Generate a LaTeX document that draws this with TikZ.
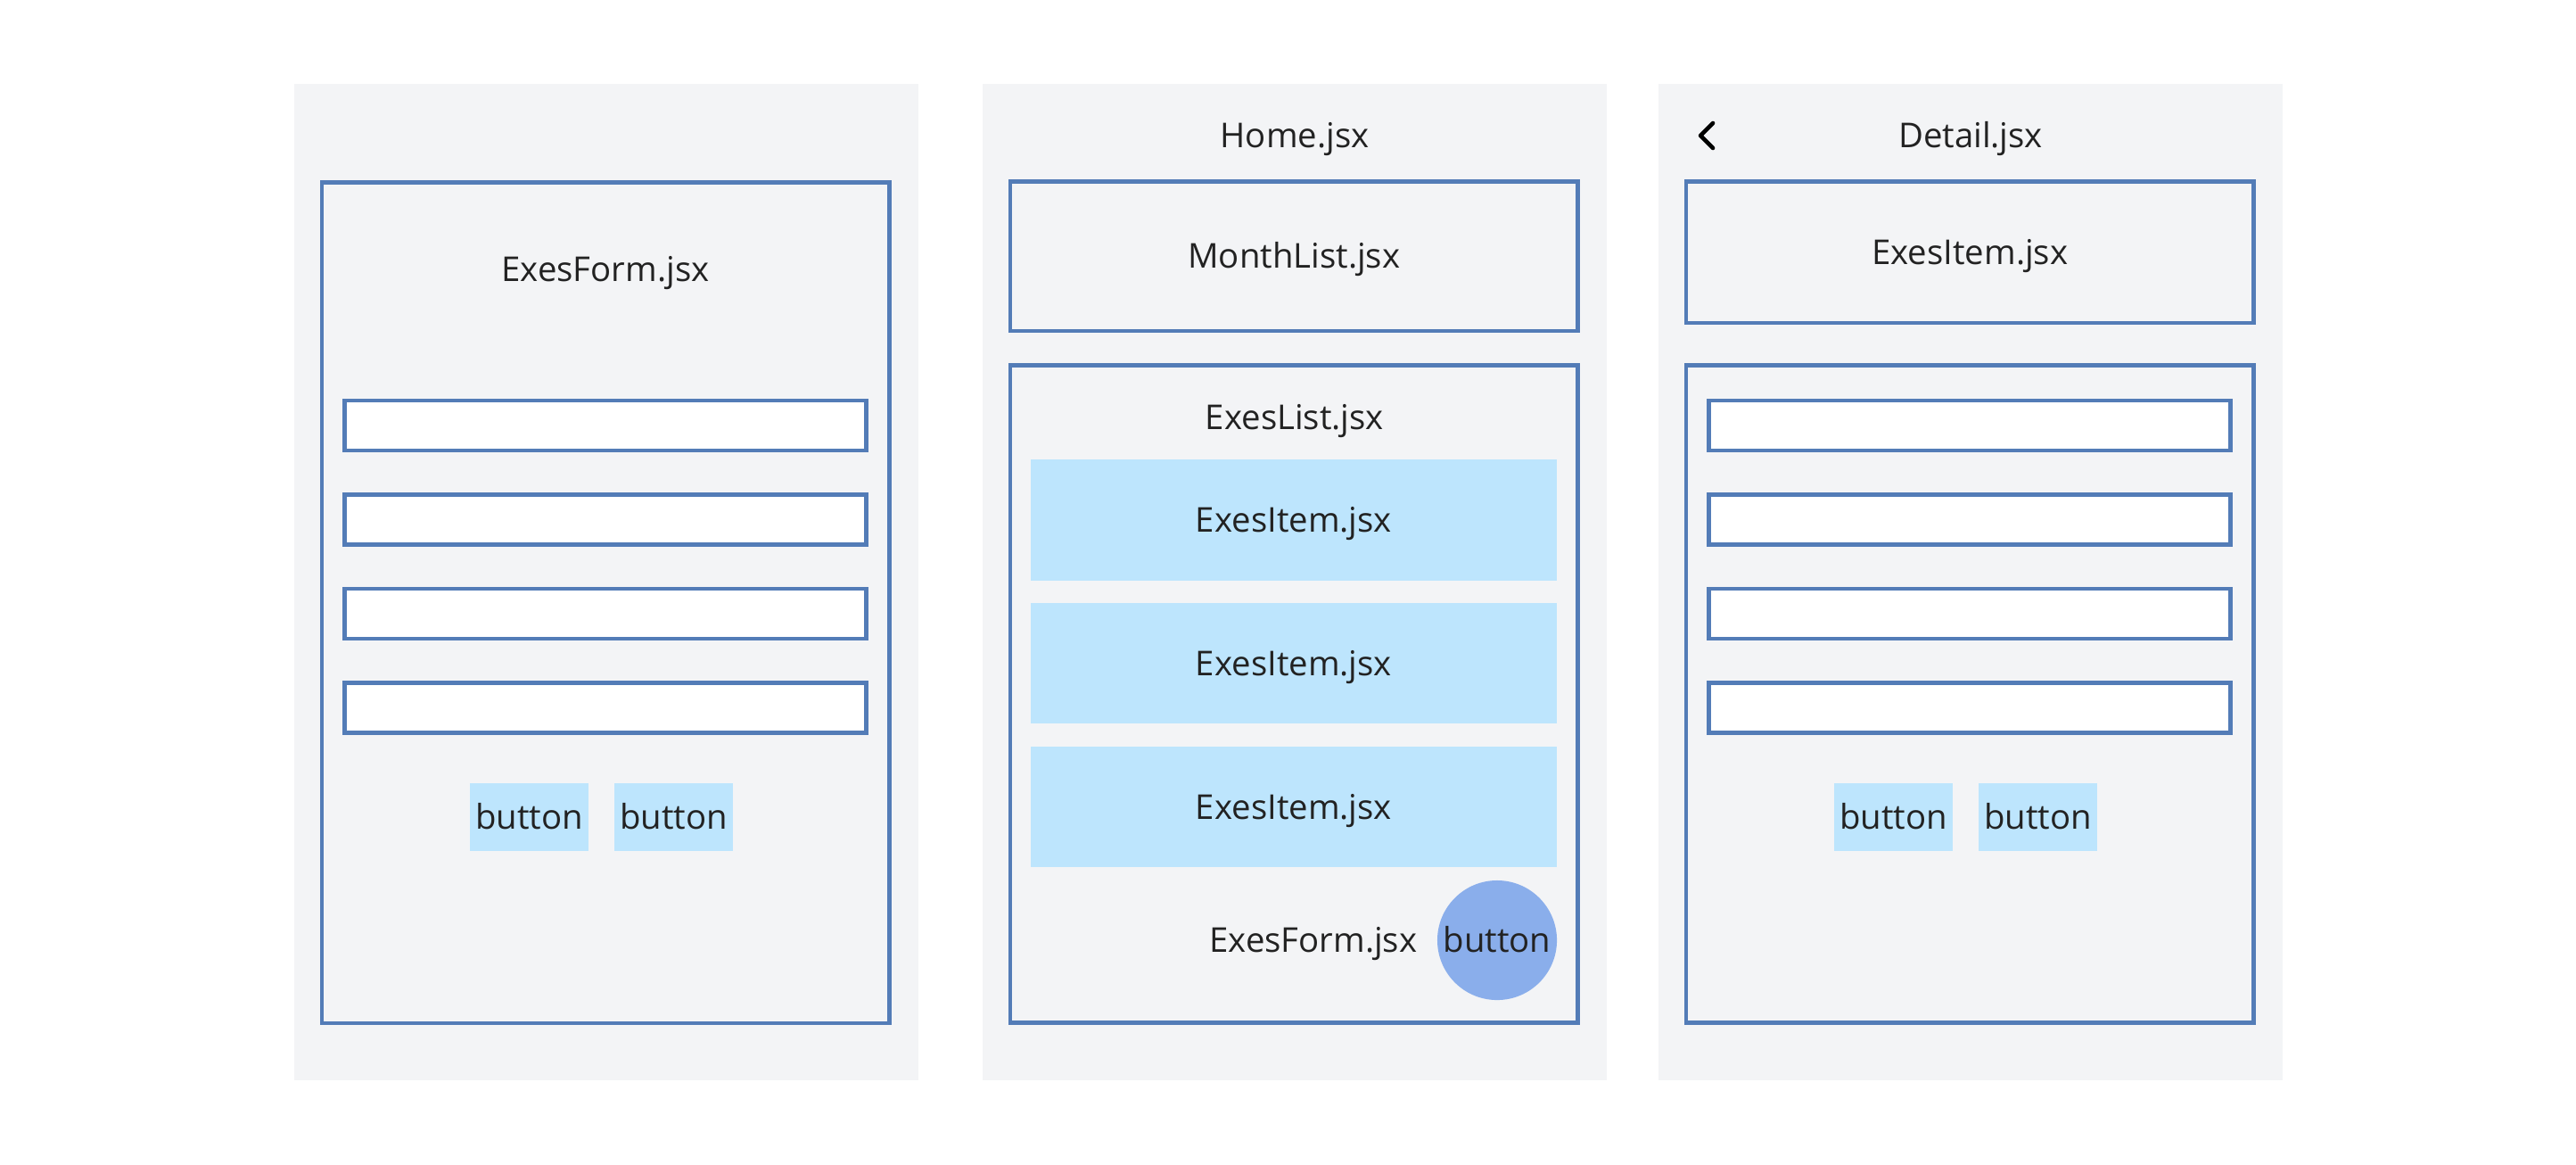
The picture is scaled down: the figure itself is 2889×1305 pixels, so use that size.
\documentclass[tikz,border=0pt]{standalone}
\usepackage{fontspec}
\setmainfont{Open Sans}
\definecolor{screenbg}{HTML}{F3F4F6}
\definecolor{compblue}{HTML}{537CB7}
\definecolor{itemblue}{HTML}{BDE5FD}
\definecolor{fabblue}{HTML}{8AAEEB}
\definecolor{txt}{HTML}{222222}
\begin{document}
\begin{tikzpicture}[
  x=0.01cm, y=-0.01cm,
  lbl/.style={font=\fontsize{10.9}{12}\selectfont, text=txt, inner sep=0pt,
              text height=7.8pt, text depth=0pt},
  screen/.style={fill=screenbg, inner sep=0pt, minimum width=7cm, minimum height=11.17cm},
  comp/.style={lbl, draw=compblue, line width=1.3pt, minimum width=6.365cm},
  field/.style={draw=compblue, fill=white, line width=1.3pt, inner sep=0pt,
                minimum width=5.85cm, minimum height=0.56cm},
  btn/.style={lbl, fill=itemblue, minimum width=1.33cm, minimum height=0.76cm},
  item/.style={lbl, fill=itemblue, minimum width=5.9cm, minimum height=1.35cm},
  fab/.style={lbl, circle, fill=fabblue, minimum size=1.34cm}
]
\useasboundingbox (0,0) rectangle (2889,1305);

% three screens
\node[screen] (s1) at (680, 652.5)  {};
\node[screen] (s2) at (1452, 652.5) {};
\node[screen] (s3) at (2210, 652.5) {};

% ExesForm screen
\node[comp, minimum height=9.42cm] (form) at (679.25, 675.5) {};
\node[lbl] (formlbl) at (679, 302) {ExesForm.jsx};
\node[field] (f1) at (679, 477)   {};
\node[field] (f2) at (679, 582.5) {};
\node[field] (f3) at (679, 688)   {};
\node[field] (f4) at (679, 793.5) {};
\node[btn] (b1) at (593.5, 916) {button};
\node[btn] (b2) at (755.5, 916) {button};

% Home screen
\node[lbl] (home) at (1452, 152) {Home.jsx};
\node[comp, minimum height=1.675cm] (month) at (1451.25, 287.25) {MonthList.jsx};
\node[comp, minimum height=7.37cm] (list) at (1451.25, 778) {};
\node[lbl] (listlbl) at (1452, 468) {ExesList.jsx};
\node[item] (i1) at (1451, 583)   {ExesItem.jsx};
\node[item] (i2) at (1451, 743.5) {ExesItem.jsx};
\node[item] (i3) at (1451, 904.5) {ExesItem.jsx};
\node[fab] (add) at (1679, 1054) {button};
\node[lbl, anchor=east] (addlbl) at (1590, 1054) {ExesForm.jsx};

% Detail screen
\node[lbl] (detail) at (2210, 152) {Detail.jsx};
\draw[line width=1.3pt, line cap=round, line join=round] (1921,138) -- (1907,152) -- (1921,166);
\node[comp, minimum height=1.585cm] (item) at (2209.25, 282.75) {ExesItem.jsx};
\node[comp, minimum height=7.37cm] (edit) at (2209.25, 778) {};
\node[field] (e1) at (2209, 477)   {};
\node[field] (e2) at (2209, 582.5) {};
\node[field] (e3) at (2209, 688)   {};
\node[field] (e4) at (2209, 793.5) {};
\node[btn] (d1) at (2123.5, 916) {button};
\node[btn] (d2) at (2285.5, 916) {button};

\end{tikzpicture}
\end{document}
